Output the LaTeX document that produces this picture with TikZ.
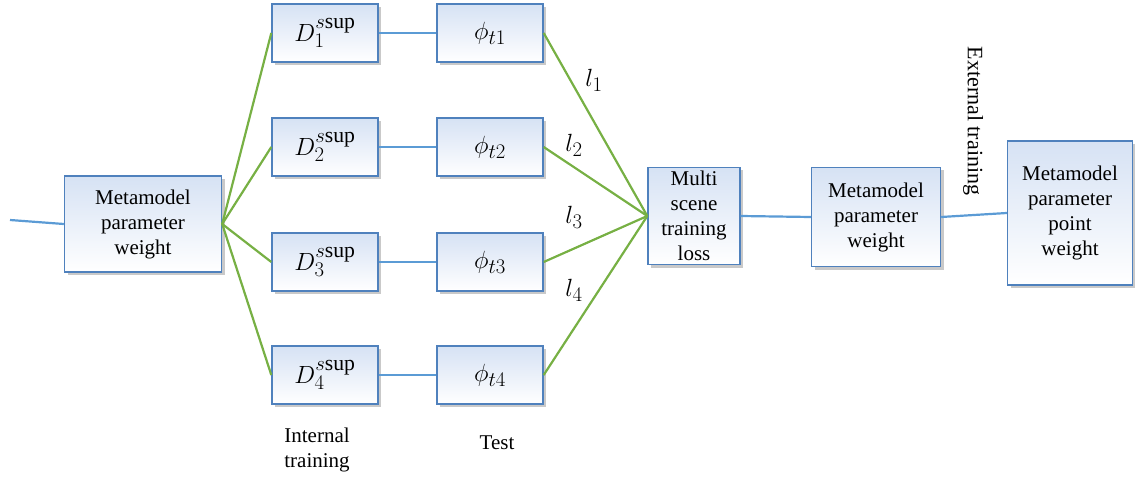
\documentclass[tikz,border=0pt]{standalone}
\usepackage{fontspec}
\setmainfont{Liberation Serif}
\usetikzlibrary{shadows,positioning}
\definecolor{boxblue}{RGB}{79,129,189}
\definecolor{boxtop}{RGB}{214,226,244}
\definecolor{lineblue}{RGB}{91,155,213}
\definecolor{linegreen}{RGB}{119,176,68}

\begin{document}
\begin{tikzpicture}[x=1pt, y=-1pt,
    block/.style={draw=boxblue, line width=1.4pt, top color=boxtop, bottom color=white,
                  drop shadow={shadow xshift=3pt, shadow yshift=-3pt, opacity=0.3, fill=black!70},
                  align=center, inner sep=0pt, font=\fontsize{21}{25}\selectfont},
    mathblock/.style={minimum width=106pt, minimum height=58pt, font=\fontsize{31}{34}\selectfont},
    label/.style={align=center, font=\fontsize{21}{25}\selectfont},
    lossl/.style={font=\fontsize{31}{34}\selectfont},
    blueline/.style={draw=lineblue, line width=2.2pt},
    greenline/.style={draw=linegreen, line width=2.2pt}]
\useasboundingbox (0,0) rectangle (1135,481);

\node[block, minimum width=157pt, minimum height=96pt] (w0) at (143,224) {Metamodel\\parameter\\weight};
\foreach \i/\y in {1/33,2/147,3/262,4/375} {
  \node[block, mathblock] (d\i) at (325,\y) {$D_{\i}^{s\mathrm{sup}}$};
  \node[block, mathblock] (p\i) at (490,\y) {$\phi_{t\i}$};
}
\node[block, minimum width=92pt, minimum height=97pt] (multi) at (694,216) {Multi\\scene\\training\\loss};
\node[block, minimum width=129pt, minimum height=99pt] (w1) at (876,217) {Metamodel\\parameter\\weight};
\node[block, minimum width=125pt, minimum height=144pt] (w2) at (1070,213) {Metamodel\\parameter\\point\\weight};
\coordinate (src) at (10,220);

\path[blueline]
(src) edge (w0.west)
(multi.east) edge (w1.west)
(w1.east) edge (w2.west);
\foreach \i in {1,...,4} {
  \path[blueline] (d\i.east) edge (p\i.west);
  \path[greenline] (w0.east) edge (d\i.west)
                   (p\i.east) edge (multi.west);
}

\node[lossl] (l1) at (594,80) {$l_1$};
\node[lossl] (l2) at (574,145) {$l_2$};
\node[lossl] (l3) at (574,217) {$l_3$};
\node[lossl] (l4) at (574,290) {$l_4$};

\node[label, rotate=-90, font=\fontsize{22}{25}\selectfont] (ext) at (973,121) {External training};
\node[label] (int) at (317,450) {Internal\\training};
\node[label] (test) at (497,443) {Test};
\end{tikzpicture}
\end{document}
